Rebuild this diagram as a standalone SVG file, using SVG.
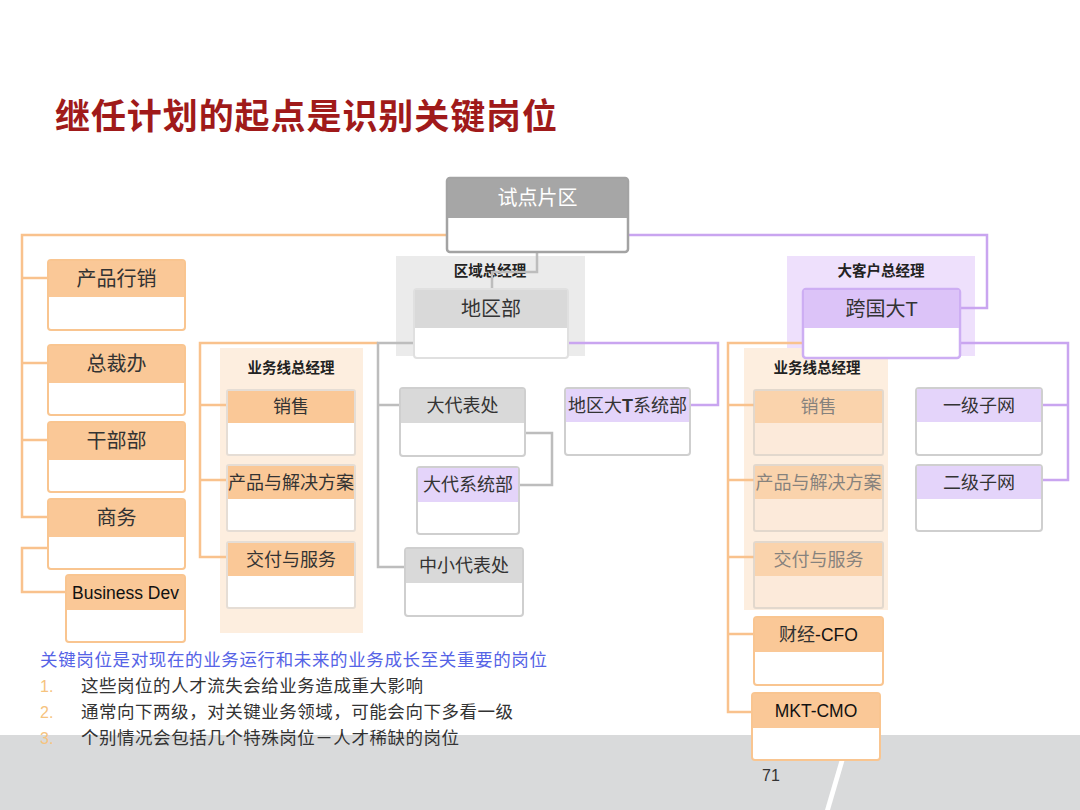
<svg xmlns="http://www.w3.org/2000/svg" width="1080" height="810" viewBox="0 0 1080 810">
<style>
text{font-family:"Noto Sans CJK SC","Liberation Sans",sans-serif;text-anchor:middle;}
.t20{font-size:20px;fill:#333;}
.t18{font-size:18px;fill:#333;}
.lat{font-family:"Liberation Sans","Noto Sans CJK SC",sans-serif;font-size:17.5px;fill:#111;}
.lbl{font-size:14.5px;font-weight:bold;fill:#222;}
.ob{fill:#fff;stroke:#F9C590;stroke-width:2;}
.oh{fill:#FAC897;}
.gb{fill:#fff;stroke:#CFCFCF;stroke-width:2;}
.gh{fill:#D9D9D9;}
.pb{fill:#fff;stroke:#DCCDF3;stroke-width:2;}
.ph{fill:#E4D4FA;}
.co{fill:none;stroke:#F9C28D;stroke-width:2.5;}
.cg{fill:none;stroke:#BDBDBD;stroke-width:2.5;}
.cp{fill:none;stroke:#C9A5F0;stroke-width:2.5;}
.txt{text-anchor:start;font-size:17.5px;fill:#333;}
.num{text-anchor:start;font-family:"Liberation Sans",sans-serif;font-size:16px;fill:#F6C37E;}
</style>
<rect x="0" y="0" width="1080" height="810" fill="#fff"/>
<rect x="0" y="735" width="1080" height="75" fill="#D9DADB"/>
<polygon points="847,735 852,735 830,810 825,810" fill="#fff"/>

<text x="55" y="129" textLength="502" style="text-anchor:start;font-size:35px;font-weight:bold;fill:#A01A1A;">继任计划的起点是识别关键岗位</text>

<!-- group backgrounds -->
<rect id="grp-mid" x="220" y="348" width="143" height="285" fill="#FDEEDF"/>
<rect id="grp-region" x="396" y="256" width="189" height="100" fill="#EBEBEB"/>
<rect id="grp-ka" x="787" y="256" width="188" height="100" fill="#EEE0FC"/>
<rect id="grp-right" x="744" y="348" width="144" height="262" fill="#FDEEDF"/>
<text class="lbl" x="291" y="373">业务线总经理</text>
<text class="lbl" x="490" y="276">区域总经理</text>
<text class="lbl" x="881" y="276">大客户总经理</text>
<text class="lbl" x="817" y="373">业务线总经理</text>

<g id="connectors">
<path class="co" d="M447 235 H22 V517 H48 M22 278 H48 M22 363 H48 M22 440 H48"/>
<path class="co" d="M48 548 H22 V592 H66"/>
<path class="co" d="M378 343 H200 V557 H227 M200 405 H227 M200 480 H227"/>
<path class="co" d="M803 343 H728 V712 H752 M728 405 H754 M728 480 H754 M728 557 H754 M728 634 H754"/>
<path class="cg" d="M537 252 V272 H492 V289"/>
<path class="cg" d="M414 343 H378 V567 H405 M378 405 H400"/>
<path class="cg" d="M525 433 H552 V485 H519"/>
<path class="cp" d="M628 235 H987 V308 H960"/>
<path class="cp" d="M568 343 H718 V405 H690"/>
<path class="cp" d="M960 343 H1068 V480 H1042 M1068 405 H1042"/>
</g>

<g id="n-sdpq">
<rect x="447" y="178" width="181" height="74" rx="3" fill="#fff" stroke="#A3A3A3" stroke-width="2.5"/>
<rect x="448" y="179" width="179" height="39" fill="#A6A6A6"/>
<text class="t20" x="537.5" y="205" style="fill:#fff">试点片区</text>
</g>

<g id="n-cpxx"><rect class="ob" x="48" y="260" width="137" height="70" rx="3"/><rect class="oh" x="49" y="261" width="135" height="36"/><text class="t20" x="116.5" y="286">产品行销</text></g>
<g id="n-zcb"><rect class="ob" x="48" y="345" width="137" height="70" rx="3"/><rect class="oh" x="49" y="346" width="135" height="37"/><text class="t20" x="116.5" y="371">总裁办</text></g>
<g id="n-gbb"><rect class="ob" x="48" y="422" width="137" height="70" rx="3"/><rect class="oh" x="49" y="423" width="135" height="37"/><text class="t20" x="116.5" y="448">干部部</text></g>
<g id="n-sw"><rect class="ob" x="48" y="499" width="137" height="70" rx="3"/><rect class="oh" x="49" y="500" width="135" height="37"/><text class="t20" x="116.5" y="525">商务</text></g>
<g id="n-bd"><rect class="ob" x="66" y="575" width="119" height="67" rx="3"/><rect class="oh" x="67" y="576" width="117" height="34"/><text class="lat" x="125.5" y="599">Business Dev</text></g>

<g id="n-xs1"><rect class="ob" x="227" y="390" width="128" height="65" rx="2" style="stroke:#E5DDD5"/><rect class="oh" x="228" y="391" width="126" height="32"/><text class="t18" x="291" y="413">销售</text></g>
<g id="n-cp1"><rect class="ob" x="227" y="465" width="128" height="66" rx="2" style="stroke:#E5DDD5"/><rect class="oh" x="228" y="466" width="126" height="33"/><text class="t18" x="291" y="489">产品与解决方案</text></g>
<g id="n-jf1"><rect class="ob" x="227" y="542" width="128" height="66" rx="2" style="stroke:#E5DDD5"/><rect class="oh" x="228" y="543" width="126" height="33"/><text class="t18" x="291" y="566">交付与服务</text></g>

<g id="n-dqb"><rect class="gb" x="414" y="289" width="154" height="69" rx="3" style="stroke:#E0E0E0"/><rect class="gh" x="415" y="290" width="152" height="38"/><text class="t20" x="491" y="316">地区部</text></g>
<g id="n-ddbc"><rect class="gb" x="400" y="388" width="125" height="68" rx="3"/><rect class="gh" x="401" y="389" width="123" height="34"/><text class="t18" x="462.5" y="412">大代表处</text></g>
<g id="n-ddxt"><rect class="gb" x="417" y="467" width="102" height="67" rx="3"/><rect class="ph" x="418" y="468" width="100" height="34"/><text class="t18" x="468" y="491">大代系统部</text></g>
<g id="n-zxdb"><rect class="gb" x="405" y="548" width="118" height="68" rx="3"/><rect class="gh" x="406" y="549" width="116" height="34"/><text class="t18" x="464" y="572">中小代表处</text></g>
<g id="n-dqdt"><rect class="gb" x="565" y="388" width="125" height="67" rx="3"/><rect class="ph" x="566" y="389" width="123" height="33"/><text class="t18" x="627.5" y="412">地区大<tspan style="font-family:'Liberation Sans',sans-serif;font-weight:bold">T</tspan>系统部</text></g>

<g id="n-kgdt"><rect x="803" y="289" width="157" height="69" rx="3" fill="#fff" stroke="#CDAEF3" stroke-width="2.5"/><rect x="804" y="290" width="155" height="38" fill="#DCC3F8"/><text class="t20" x="881.5" y="316">跨国大<tspan style="font-family:'Liberation Sans',sans-serif">T</tspan></text></g>

<g id="n-xs2" opacity="0.7"><rect class="ob" x="754" y="390" width="129" height="65" rx="2" style="stroke:#D8CFC6;fill:#FCE9D8"/><rect class="oh" x="755" y="391" width="127" height="32"/><text class="t18" x="818.5" y="413" style="fill:#555">销售</text></g>
<g id="n-cp2" opacity="0.7"><rect class="ob" x="754" y="465" width="129" height="66" rx="2" style="stroke:#D8CFC6;fill:#FCE9D8"/><rect class="oh" x="755" y="466" width="127" height="33"/><text class="t18" x="818.5" y="489" style="fill:#555">产品与解决方案</text></g>
<g id="n-jf2" opacity="0.7"><rect class="ob" x="754" y="542" width="129" height="66" rx="2" style="stroke:#D8CFC6;fill:#FCE9D8"/><rect class="oh" x="755" y="543" width="127" height="33"/><text class="t18" x="818.5" y="566" style="fill:#555">交付与服务</text></g>
<g id="n-cfo"><rect class="ob" x="754" y="617" width="129" height="68" rx="3"/><rect class="oh" x="755" y="618" width="127" height="34"/><text class="t18" x="818.5" y="641">财经<tspan class="lat" style="font-size:17.5px">-CFO</tspan></text></g>
<g id="n-cmo"><rect class="ob" x="752" y="693" width="128" height="67" rx="3"/><rect class="oh" x="753" y="694" width="126" height="34"/><text class="lat" x="816" y="717">MKT-CMO</text></g>

<g id="n-yjzw"><rect class="gb" x="916" y="388" width="126" height="67" rx="3"/><rect class="ph" x="917" y="389" width="124" height="33"/><text class="t18" x="979" y="412">一级子网</text></g>
<g id="n-ejzw"><rect class="gb" x="916" y="465" width="126" height="66" rx="3"/><rect class="ph" x="917" y="466" width="124" height="33"/><text class="t18" x="979" y="489">二级子网</text></g>

<text x="40" y="666" style="text-anchor:start;font-size:17.5px;fill:#5563E6;" textLength="507">关键岗位是对现在的业务运行和未来的业务成长至关重要的岗位</text>
<text class="num" x="40" y="692">1.</text>
<text class="txt" x="81" y="692" textLength="342">这些岗位的人才流失会给业务造成重大影响</text>
<text class="num" x="40" y="718">2.</text>
<text class="txt" x="81" y="718" textLength="432">通常向下两级，对关键业务领域，可能会向下多看一级</text>
<text class="num" x="40" y="744">3.</text>
<text class="txt" x="81" y="744" textLength="378">个别情况会包括几个特殊岗位－人才稀缺的岗位</text>

<text x="771" y="781" style="font-family:'Liberation Sans',sans-serif;font-size:16px;fill:#333;">71</text>
</svg>
